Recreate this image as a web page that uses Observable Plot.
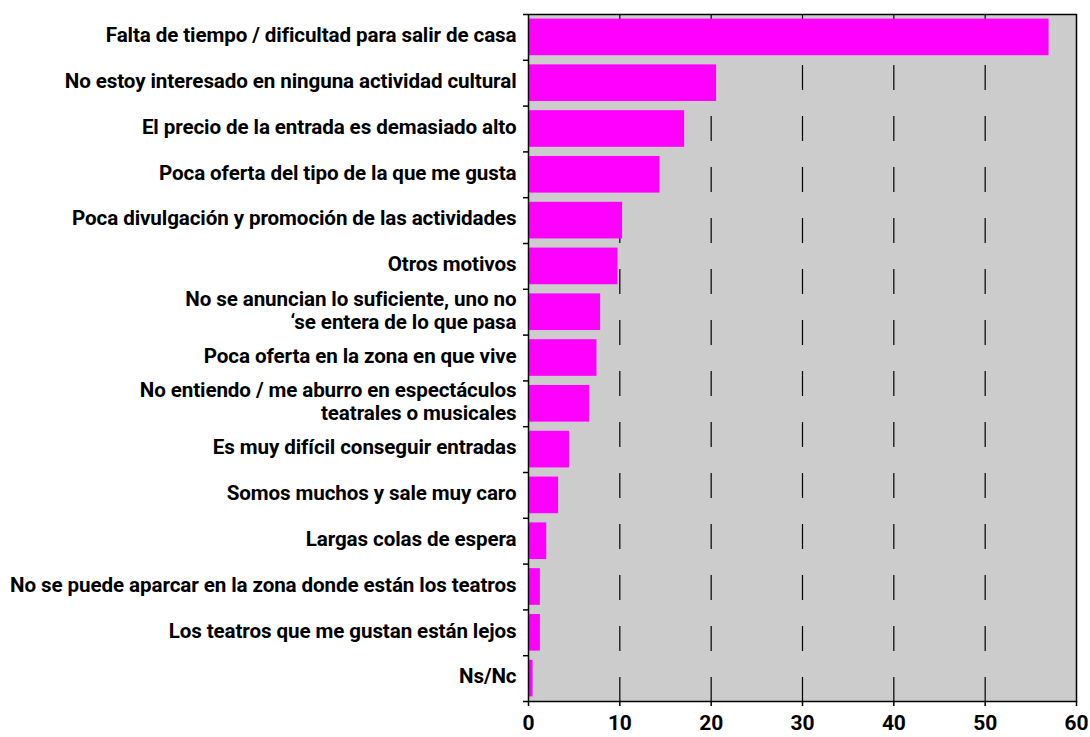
<!DOCTYPE html>
<html>
<head>
<meta charset="utf-8">
<script src="https://cdn.jsdelivr.net/npm/d3@7"></script>
<script src="https://cdn.jsdelivr.net/npm/@observablehq/plot@0.6"></script>
<style>
  html, body { margin: 0; padding: 0; background: #fff; }
</style>
</head>
<body>
<div id="chart"></div>
<script>
const categories = [
  "Falta de tiempo / dificultad para salir de casa",
  "No estoy interesado en ninguna actividad cultural",
  "El precio de la entrada es demasiado alto",
  "Poca oferta del tipo de la que me gusta",
  "Poca divulgación y promoción de las actividades",
  "Otros motivos",
  "No se anuncian lo suficiente, uno no\n‘se entera de lo que pasa",
  "Poca oferta en la zona en que vive",
  "No entiendo / me aburro en espectáculos\nteatrales o musicales",
  "Es muy difícil conseguir entradas",
  "Somos muchos y sale muy caro",
  "Largas colas de espera",
  "No se puede aparcar en la zona donde están los teatros",
  "Los teatros que me gustan están lejos",
  "Ns/Nc"
];
const values = [57, 20.6, 17.1, 14.4, 10.3, 9.8, 7.9, 7.5, 6.7, 4.5, 3.3, 2.0, 1.3, 1.3, 0.5];
const xTicks = [0, 10, 20, 30, 40, 50, 60];
const gridTicks = [10, 20, 30, 40, 50];

const data = categories.map((c, i) => ({cat: c, value: values[i]}));

const W = 1090, H = 737, mT = 14, mB = 36, mL = 528, mR = 14;
const step = (H - mT - mB) / categories.length;

const chart = Plot.plot({
  width: W,
  height: H,
  marginLeft: mL,
  marginRight: mR,
  marginTop: mT,
  marginBottom: mB,
  style: {fontFamily: "Roboto, 'Liberation Sans', sans-serif", fontSize: "20.6px", fontWeight: 700, letterSpacing: "-0.1px", color: "#000", background: "#fff"},
  x: {domain: [0, 60]},
  y: {domain: categories, paddingInner: 0.2, paddingOuter: 0.1, round: false},
  marks: [
    Plot.frame({fill: "#cccccc"}),
    Plot.ruleX(gridTicks, {stroke: "#000", strokeWidth: 1.2, strokeDasharray: "25,26"}),
    Plot.barX(data, {x: "value", y: "cat", fill: "#ff00ff"}),
    Plot.frame({stroke: "#000", strokeWidth: 1.5}),
    Plot.axisX({ticks: xTicks, tickSize: 5, tickPadding: 9, fontWeight: 700, fontSize: 21, strokeWidth: 1.5, label: null}),
    Plot.axisY({tickSize: 0, tickPadding: 12, lineHeight: 1.12, dy: -2.5, label: null}),
    Plot.axisY({tickSize: 5, text: null, dy: step / 2, strokeWidth: 1.5, label: null}),
    Plot.axisY({ticks: [categories[0]], tickSize: 5, text: null, dy: -step / 2, strokeWidth: 1.5, label: null})
  ]
});
document.getElementById("chart").appendChild(chart);
</script>
</body>
</html>
